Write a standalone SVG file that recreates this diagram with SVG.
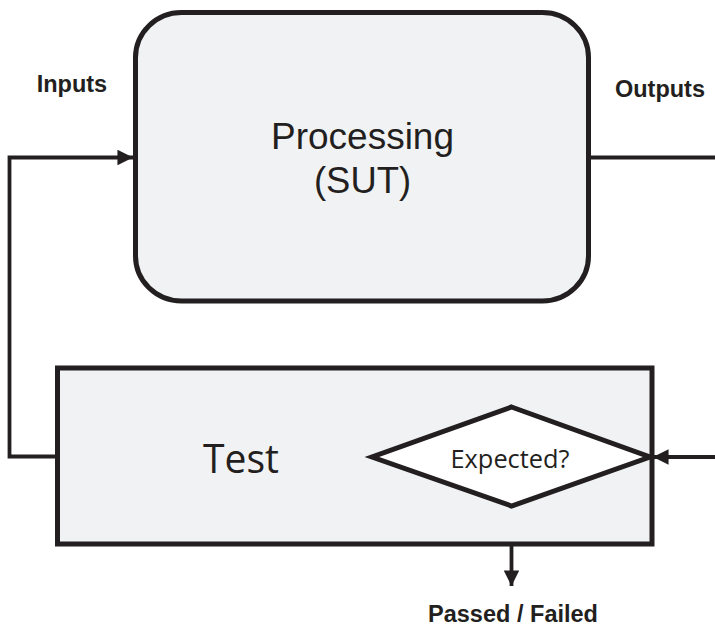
<svg xmlns="http://www.w3.org/2000/svg" width="715" height="627" viewBox="0 0 715 627">
<style>
.box{fill:#f1f2f4;stroke:#231f20;stroke-width:5}
.dia{fill:#ffffff;stroke:#231f20;stroke-width:5;stroke-linejoin:miter}
.con{fill:none;stroke:#231f20;stroke-width:3.8}
.lbl{font-family:"Liberation Sans",Arial,sans-serif;font-weight:bold;fill:#231f20}
.main{font-family:"Liberation Sans",Arial,sans-serif;fill:#231f20}
.os{font-family:"Open Sans","Noto Sans",sans-serif;fill:#231f20}
</style>
<defs>
<marker id="ah" viewBox="0 0 10 10" refX="10" refY="5" markerWidth="4.1" markerHeight="4.2" markerUnits="strokeWidth" orient="auto">
<path d="M0,0 L10,5 L0,10 z" fill="#231f20"/>
</marker>
</defs>
<g id="connectors">
<polyline class="con" points="57,456.5 9.5,456.5 9.5,157.5 133,157.5" marker-end="url(#ah)"/>
<line class="con" x1="589" y1="157.5" x2="715" y2="157.5"/>
<line class="con" x1="715" y1="457" x2="653" y2="457" marker-end="url(#ah)"/>
<line class="con" x1="511.5" y1="507" x2="511.5" y2="586" marker-end="url(#ah)"/>
</g>
<g id="processing">
<rect class="box" x="135.5" y="12.5" width="453" height="288.5" rx="46" ry="45"/>
<text class="main" x="362.5" y="149" font-size="36" text-anchor="middle" textLength="183" lengthAdjust="spacingAndGlyphs">Processing</text>
<text class="main" x="362.5" y="193" font-size="36" text-anchor="middle" textLength="97" lengthAdjust="spacingAndGlyphs">(SUT)</text>
</g>
<g id="test">
<rect class="box" x="57.5" y="368" width="594.5" height="176"/>
<text class="os" x="241" y="472.5" font-size="41" text-anchor="middle" textLength="76" lengthAdjust="spacingAndGlyphs">Test</text>
</g>
<g id="expected">
<polygon class="dia" points="511.5,407 650,457 511.5,506 372,457"/>
<text class="os" x="510" y="468" font-size="25" text-anchor="middle" textLength="119" lengthAdjust="spacingAndGlyphs">Expected?</text>
</g>
<g id="labels">
<text class="lbl" x="36.7" y="92.3" font-size="23.5" textLength="70.5" lengthAdjust="spacingAndGlyphs">Inputs</text>
<text class="lbl" x="615" y="96.5" font-size="23.5" textLength="90" lengthAdjust="spacingAndGlyphs">Outputs</text>
<text class="lbl" x="513" y="622.3" font-size="23" text-anchor="middle" textLength="170" lengthAdjust="spacingAndGlyphs">Passed / Failed</text>
</g>
</svg>
